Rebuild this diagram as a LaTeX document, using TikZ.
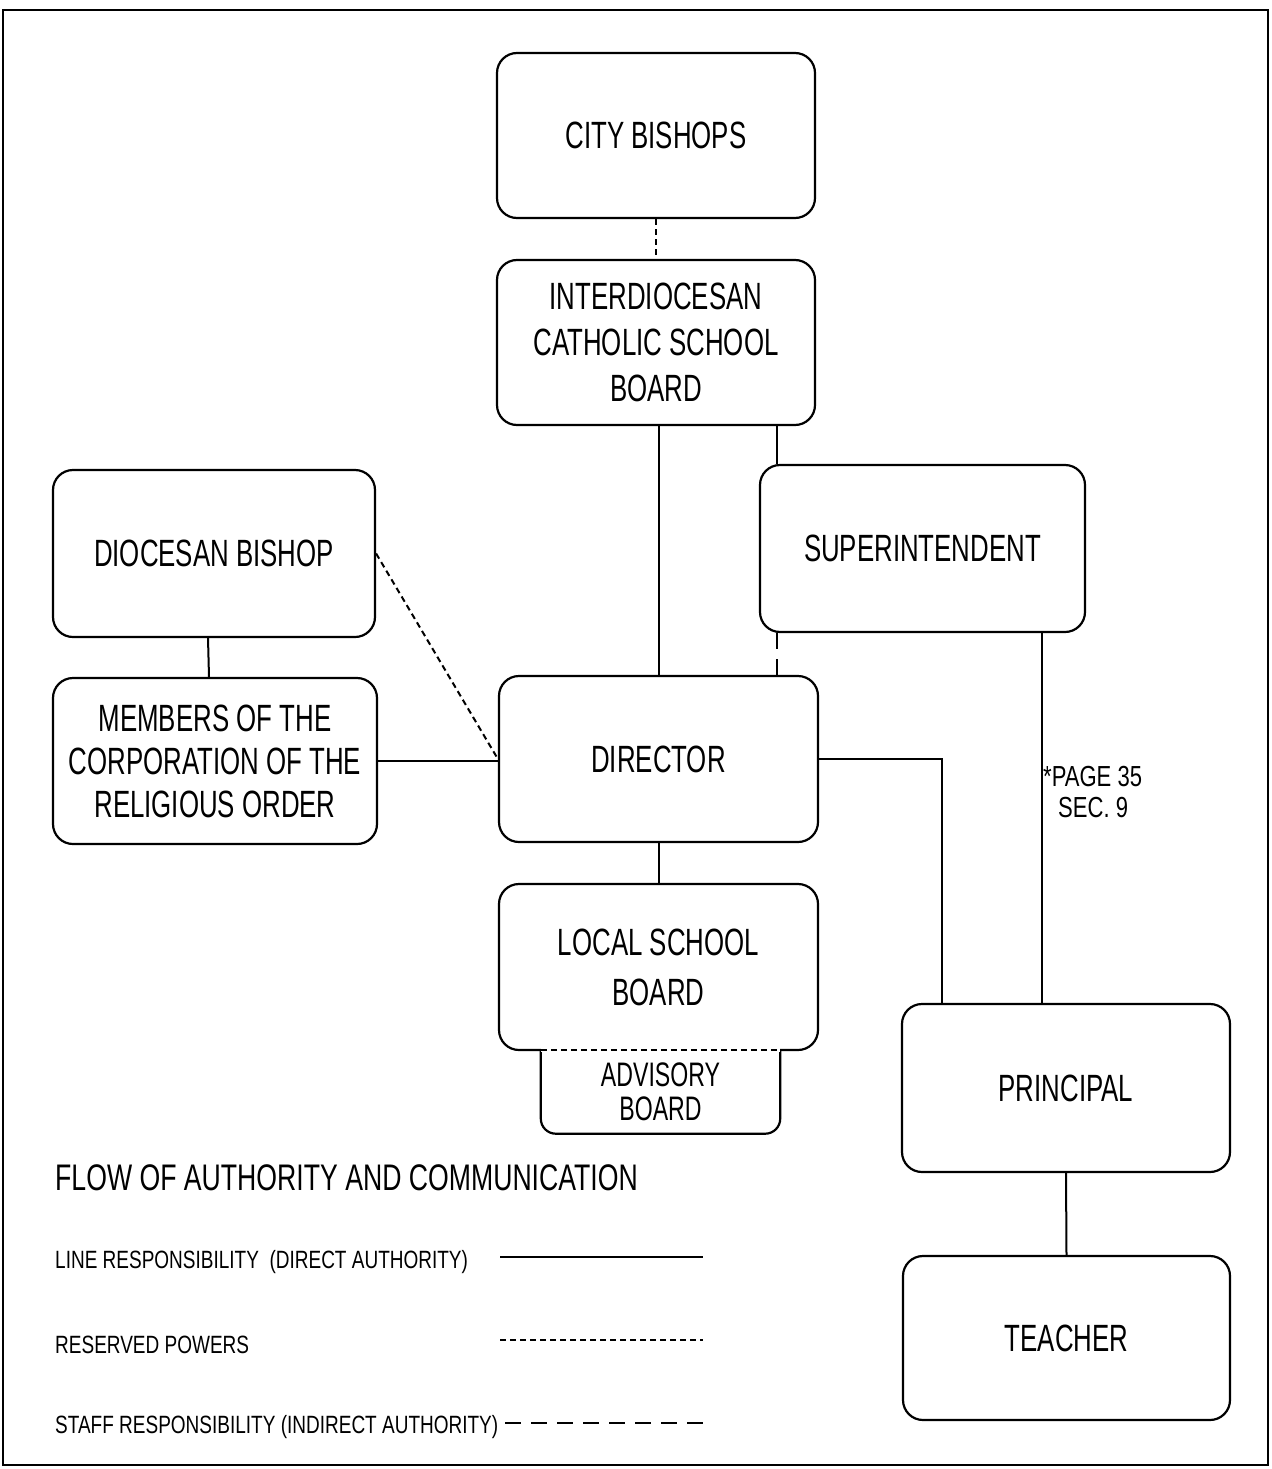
\documentclass[tikz,border=0pt]{standalone}
\usepackage{fontspec}
\setmainfont[FakeStretch=0.68]{Liberation Sans}
\newfontfamily\legfont[FakeStretch=0.76]{Liberation Sans}
\newfontfamily\titfont[FakeStretch=0.72]{Liberation Sans}
\begin{document}
\begin{tikzpicture}[x=1pt,y=-1pt,
  box/.style={draw,line width=2.2pt,rounded corners=20pt,rectangle,inner sep=0pt,align=center,
    font=\fontsize{38}{46}\selectfont},
  solidline/.style={line width=2pt},
  reserved/.style={line width=2pt,dash pattern=on 6pt off 4pt},
  staffline/.style={line width=2pt,dash pattern=on 16pt off 10pt},
  legend/.style={anchor=west,inner sep=0pt,font=\legfont\fontsize{25}{30}\selectfont}]
\useasboundingbox (0,0) rectangle (1271,1469);
\draw[line width=2.2pt] (3,10) rectangle (1268,1465);

\node[box,minimum width=318pt,minimum height=165pt] (cb) at (656,135.5) {CITY BISHOPS};
\node[box,minimum width=318pt,minimum height=165pt] (icsb) at (656,342.5) {INTERDIOCESAN\\CATHOLIC SCHOOL\\BOARD};
\node[box,minimum width=325pt,minimum height=167pt] (sup) at (922.5,548.5) {SUPERINTENDENT};
\node[box,minimum width=322pt,minimum height=167pt] (db) at (214,553.5) {DIOCESAN BISHOP};
\node[box,minimum width=324pt,minimum height=166pt,font=\fontsize{38}{43}\selectfont] (mem) at (215,761) {MEMBERS OF THE\\CORPORATION OF THE\\RELIGIOUS ORDER};
\node[box,minimum width=319pt,minimum height=166pt] (dir) at (658.5,759) {DIRECTOR};
\node[box,minimum width=319pt,minimum height=166pt,font=\fontsize{38}{50}\selectfont] (lsb) at (658.5,967) {LOCAL SCHOOL\\BOARD};
\node[box,minimum width=328pt,minimum height=168pt] (pr) at (1066,1088) {PRINCIPAL};
\node[box,minimum width=327pt,minimum height=164pt] (te) at (1066.5,1338) {TEACHER};

% advisory board
\node[rectangle,inner sep=0pt,minimum width=239pt,minimum height=83pt,align=center,
  font=\fontsize{34}{34}\selectfont] (adv) at (660.5,1092) {ADVISORY\\BOARD};
\draw[line width=2.2pt,rounded corners=15pt] (adv.north west) -- (adv.south west) -- (adv.south east) -- (adv.north east);
\draw[white,line width=4pt] (adv.north west) -- (adv.north east);
\draw[reserved] (adv.north west) -- (adv.north east);

% helper coordinates
\coordinate (xs) at (777,0);
\coordinate (xp) at (942,0);
\coordinate (xq) at (1042,0);

% connectors
\draw[reserved] (cb.south) -- (icsb.north);
\draw[solidline] (dir.north |- icsb.south) -- (dir.north);
\draw[solidline] (icsb.south -| xs) -- (sup.north -| xs);
\draw[staffline] (sup.south -| xs) -- (dir.north -| xs);
\draw[reserved] (db.east) -- (dir.west);
\draw[solidline] (mem.east) -- (mem.east -| dir.west);
\draw[solidline] ([xshift=-6pt]db.south) -- ([xshift=-6pt]mem.north);
\draw[solidline] (dir.south) -- (dir.south |- lsb.north);
\draw[solidline] (dir.east) -- (dir.east -| xp) -- (pr.north -| xp);
\draw[solidline] (sup.south -| xq) -- (pr.north -| xq);
\draw[solidline] (pr.south) -- (te.north);

\node[anchor=west,inner sep=0pt,font=\legfont\fontsize{29}{32}\selectfont] (pg1) at (1043,777) {*PAGE 35};
\node[anchor=west,inner sep=0pt,font=\legfont\fontsize{29}{32}\selectfont] (pg2) at (1058,808) {SEC. 9};

% legend
\node[anchor=west,inner sep=0pt,font=\titfont\fontsize{37}{44}\selectfont] (title) at (55,1178) {FLOW OF AUTHORITY AND COMMUNICATION};
\node[legend] (l1) at (55,1262) {LINE RESPONSIBILITY \ (DIRECT AUTHORITY)};
\node[legend] (l2) at (55,1345) {RESERVED POWERS};
\node[legend] (l3) at (55,1427) {STAFF RESPONSIBILITY (INDIRECT AUTHORITY)};
\coordinate (a1) at (500,1257); \coordinate (b1) at (703,1257);
\coordinate (a2) at (500,1340); \coordinate (b2) at (703,1340);
\coordinate (a3) at (505,1423); \coordinate (b3) at (703,1423);
\draw[solidline] (a1) -- (b1);
\draw[reserved] (a2) -- (b2);
\draw[staffline] (a3) -- (b3);
\end{tikzpicture}
\end{document}
